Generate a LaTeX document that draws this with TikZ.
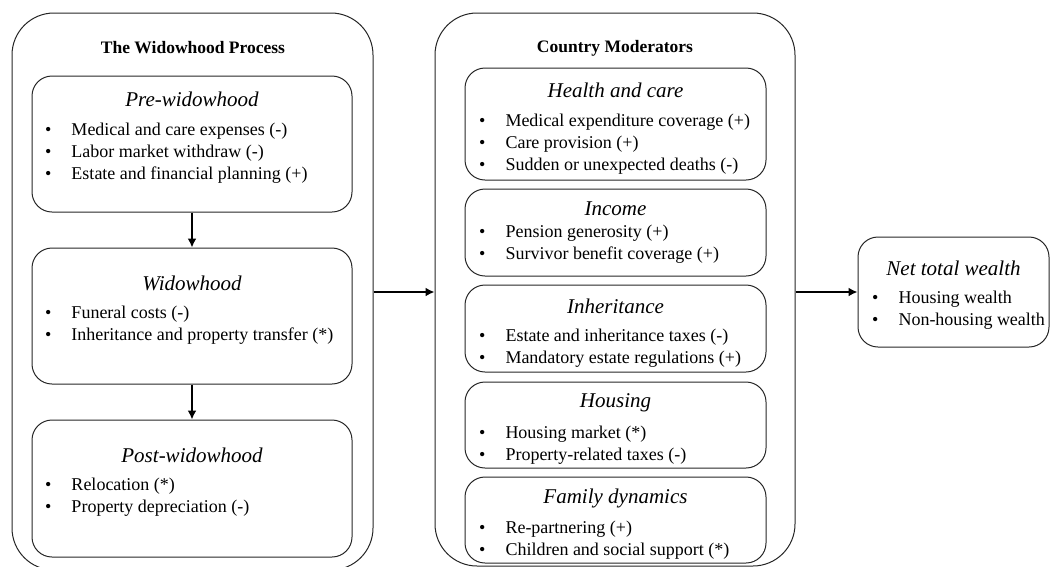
\documentclass[tikz,border=0pt]{standalone}
\usepackage{fontspec}
\setmainfont{Liberation Serif}
\usetikzlibrary{calc,arrows.meta}
\tikzset{>={Latex[length=9pt,width=9pt]}}

\tikzset{
  panel/.style={draw=black!85, line width=1pt, rounded corners=42pt, inner sep=0pt},
  inbox/.style={draw=black!85, line width=1pt, rounded corners=20pt, inner sep=0pt},
  paneltitle/.style={font=\fontsize{17.5}{21}\selectfont\bfseries},
  subtitle/.style={font=\fontsize{21}{25}\selectfont\itshape},
  bullets/.style={anchor=west, inner sep=0pt, font=\fontsize{18}{22}\selectfont},
  flow/.style={->, line width=2.8pt}
}

\begin{document}
\begin{tikzpicture}[x=1pt,y=-1pt]
  \useasboundingbox (0,0) rectangle (1050,566);
  % the widowhood process
  \node[panel, minimum width=361, minimum height=557] (proc) at (192.5,291.5) {};
  \node[paneltitle] (procT) at (193,48) {The Widowhood Process};
  \node[inbox, minimum width=320, minimum height=136] (pre) at (192,144) {};
  \node[subtitle] (preT) at (192,99) {Pre-widowhood};
  \node[bullets] (preL) at (45,153.5) {\begin{tabular}{@{}l@{\hspace{20pt}}l@{}}
    \textbullet & Medical and care expenses (-)\\
    \textbullet & Labor market withdraw (-)\\
    \textbullet & Estate and financial planning (+)
  \end{tabular}};
  \node[inbox, minimum width=320, minimum height=136] (wid) at (192,316) {};
  \node[subtitle] (widT) at (192,283) {Widowhood};
  \node[bullets] (widL) at (45,325) {\begin{tabular}{@{}l@{\hspace{20pt}}l@{}}
    \textbullet & Funeral costs (-)\\
    \textbullet & Inheritance and property transfer (*)
  \end{tabular}};
  \node[inbox, minimum width=320, minimum height=137] (post) at (192,488.5) {};
  \node[subtitle] (postT) at (192,455) {Post-widowhood};
  \node[bullets] (postL) at (45,497) {\begin{tabular}{@{}l@{\hspace{20pt}}l@{}}
    \textbullet & Relocation (*)\\
    \textbullet & Property depreciation (-)
  \end{tabular}};
  \draw[flow] (pre) -- (wid);
  \draw[flow] (wid) -- (post);

  % country moderators
  \node[panel, minimum width=360, minimum height=553] (mod) at (615,289.5) {};
  \node[paneltitle] (modT) at (615,48) {Country Moderators};
  \node[inbox, minimum width=301, minimum height=112] (health) at (615.5,124) {};
  \node[subtitle] (healthT) at (615.5,90) {Health and care};
  \node[bullets] (healthL) at (479,144) {\begin{tabular}{@{}l@{\hspace{20pt}}l@{}}
    \textbullet & Medical expenditure coverage (+)\\
    \textbullet & Care provision (+)\\
    \textbullet & Sudden or unexpected deaths (-)
  \end{tabular}};
  \node[inbox, minimum width=301, minimum height=87] (income) at (615.5,232.5) {};
  \node[subtitle] (incomeT) at (615.5,209) {Income};
  \node[bullets] (incomeL) at (479,244) {\begin{tabular}{@{}l@{\hspace{20pt}}l@{}}
    \textbullet & Pension generosity (+)\\
    \textbullet & Survivor benefit coverage (+)
  \end{tabular}};
  \node[inbox, minimum width=301, minimum height=87] (inher) at (615.5,328.5) {};
  \node[subtitle] (inherT) at (615.5,306) {Inheritance};
  \node[bullets] (inherL) at (479,348.5) {\begin{tabular}{@{}l@{\hspace{20pt}}l@{}}
    \textbullet & Estate and inheritance taxes (-)\\
    \textbullet & Mandatory estate regulations (+)
  \end{tabular}};
  \node[inbox, minimum width=301, minimum height=86] (housing) at (615.5,425) {};
  \node[subtitle] (housingT) at (615.5,403) {Housing};
  \node[bullets] (housingL) at (479,445) {\begin{tabular}{@{}l@{\hspace{20pt}}l@{}}
    \textbullet & Housing market (*)\\
    \textbullet & Property-related taxes (-)
  \end{tabular}};
  \node[inbox, minimum width=301, minimum height=86] (family) at (615.5,520) {};
  \node[subtitle] (familyT) at (615.5,498) {Family dynamics};
  \node[bullets] (familyL) at (479,540) {\begin{tabular}{@{}l@{\hspace{20pt}}l@{}}
    \textbullet & Re-partnering (+)\\
    \textbullet & Children and social support (*)
  \end{tabular}};

  % outcome
  \node[inbox, minimum width=191, minimum height=110] (net) at (953.5,292) {};
  \node[subtitle] (netT) at (953.5,268) {Net total wealth};
  \node[bullets] (netL) at (872,310.5) {\begin{tabular}{@{}l@{\hspace{20pt}}l@{}}
    \textbullet & Housing wealth\\
    \textbullet & Non-housing wealth
  \end{tabular}};

  \draw[flow] (proc.east |- 0,292) -- (mod.west |- 0,292);
  \draw[flow] (mod.east |- net.west) -- (net.west);
\end{tikzpicture}
\end{document}
